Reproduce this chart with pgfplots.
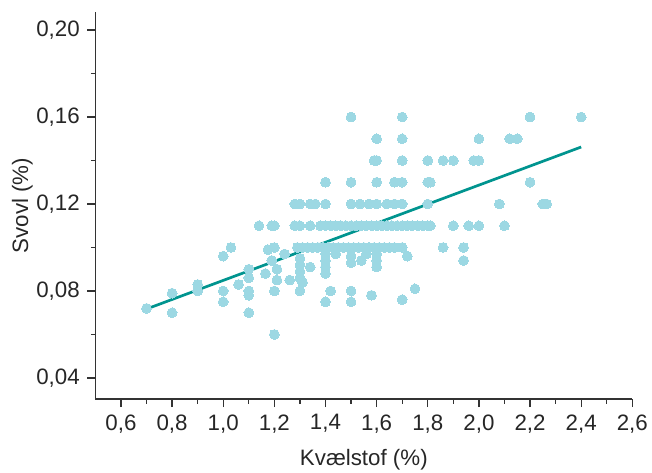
\documentclass[border=0pt]{standalone}
\usepackage{fontspec}
\setmainfont{Liberation Sans}
\usepackage{pgfplots}
\usepackage{pgfplotstable}
\pgfplotsset{compat=1.18}
\definecolor{dotc}{RGB}{156,216,227}
\definecolor{linec}{RGB}{0,148,143}
\definecolor{axc}{RGB}{51,51,51}
\pgfplotstableread{
x y
0.70 0.072
0.80 0.079
0.80 0.070
0.90 0.083
0.90 0.080
1.00 0.096
1.00 0.080
1.00 0.075
1.03 0.100
1.06 0.083
1.10 0.090
1.10 0.086
1.10 0.080
1.10 0.078
1.10 0.070
1.14 0.110
1.19 0.110
1.20 0.110
1.175 0.099
1.20 0.100
1.165 0.088
1.19 0.094
1.21 0.090
1.21 0.085
1.20 0.080
1.20 0.060
1.24 0.097
1.26 0.085
1.30 0.080
1.30 0.095
1.30 0.092
1.30 0.089
1.30 0.086
1.31 0.084
1.34 0.091
1.40 0.097
1.40 0.094
1.40 0.091
1.40 0.088
1.42 0.080
1.40 0.075
1.44 0.097
1.50 0.096
1.50 0.093
1.50 0.080
1.50 0.075
1.54 0.094
1.56 0.097
1.58 0.078
1.60 0.097
1.60 0.094
1.60 0.091
1.70 0.076
1.72 0.096
1.75 0.081
1.94 0.094
1.29 0.100
1.31 0.100
1.33 0.100
1.35 0.100
1.37 0.100
1.39 0.100
1.41 0.100
1.43 0.100
1.45 0.100
1.47 0.100
1.49 0.100
1.51 0.100
1.53 0.100
1.55 0.100
1.57 0.100
1.59 0.100
1.61 0.100
1.63 0.100
1.65 0.100
1.67 0.100
1.70 0.100
1.86 0.100
1.94 0.100
1.28 0.110
1.30 0.110
1.34 0.110
1.38 0.110
1.40 0.110
1.42 0.110
1.44 0.110
1.46 0.110
1.48 0.110
1.50 0.110
1.52 0.110
1.54 0.110
1.56 0.110
1.58 0.110
1.60 0.110
1.62 0.110
1.64 0.110
1.66 0.110
1.68 0.110
1.70 0.110
1.72 0.110
1.74 0.110
1.76 0.110
1.78 0.110
1.80 0.110
1.81 0.110
1.90 0.110
1.96 0.110
2.00 0.110
2.10 0.110
1.28 0.120
1.30 0.120
1.34 0.120
1.36 0.120
1.40 0.120
1.50 0.120
1.535 0.120
1.57 0.120
1.60 0.120
1.64 0.120
1.67 0.120
1.70 0.120
1.80 0.120
2.08 0.120
2.25 0.120
2.265 0.120
1.40 0.130
1.50 0.130
1.60 0.130
1.67 0.130
1.70 0.130
1.80 0.130
1.81 0.130
2.20 0.130
1.59 0.140
1.60 0.140
1.70 0.140
1.80 0.140
1.86 0.140
1.90 0.140
1.98 0.140
2.00 0.140
1.60 0.150
1.70 0.150
2.00 0.150
2.12 0.150
2.15 0.150
1.50 0.160
1.70 0.160
2.20 0.160
2.40 0.160
}\scatterdata
\begin{document}
\fontsize{22.4}{27}\selectfont
\begin{tikzpicture}
\path[use as bounding box] (-95.4bp,-74bp) rectangle (556.6bp,399bp);
\begin{axis}[
  at={(0,0)}, anchor=south west,
  scale only axis, width=536.9bp, height=387bp,
  xmin=0.5, xmax=2.6, ymin=0.0303, ymax=0.2083,
  axis lines=left,
  axis line style={-, draw=axc, line width=1.3bp},
  xtick={0.6,0.8,1.0,1.2,1.4,1.6,1.8,2.0,2.2,2.4,2.6},
  ytick={0.04,0.08,0.12,0.16,0.20},
  minor x tick num=1, minor y tick num=1,
  tick align=outside,
  major tick length=8bp, minor tick length=4.5bp,
  tick style={draw=axc, line width=1.2bp},
  x tick label style={/pgf/number format/.cd, fixed, fixed zerofill, precision=1, use comma},
  y tick label style={/pgf/number format/.cd, fixed, fixed zerofill, precision=2, use comma},
  /pgf/number format/assume math mode=true,
  tick label style={font=\fontsize{22.4}{27}\selectfont, text=black!85},
  label style={font=\fontsize{22.4}{27}\selectfont, text=black!85},
  xlabel={Kvælstof (\%)},
  ylabel={Svovl (\%)},
  xlabel style={at={(axis description cs:0.5,-0.1731)}, anchor=base},
  ylabel style={at={(axis description cs:-0.1253,0.5)}, anchor=base, rotate=0},
  clip=false,
]
\addplot[only marks, color=dotc, mark=*, mark size=4.9bp, mark options={draw=dotc, fill=dotc, line width=0pt}] table[x=x,y=y] {\scatterdata};
\addplot[linec, line width=2.7bp] coordinates {(0.70,0.0717) (2.40,0.1462)};
\end{axis}
\end{tikzpicture}
\end{document}
